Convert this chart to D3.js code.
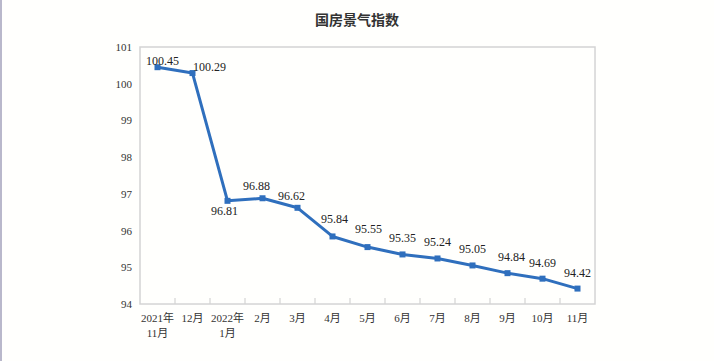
<!DOCTYPE html>
<html>
<head>
<meta charset="utf-8">
<script src="https://cdn.jsdelivr.net/npm/d3@7"></script>
<style>
  body { margin: 0; background: #fffffd; }
  svg { display: block; }
</style>
</head>
<body>
<svg id="chartSVG"></svg>
<script>
var chartWidth = 714
var chartHeight = 361
var margin = { top: 47, left: 140, right: 119, bottom: 57 }

var titleText = '国房景气指数'
var months = ['2021年\n11月', '12月', '2022年\n1月', '2月', '3月', '4月', '5月', '6月', '7月', '8月', '9月', '10月', '11月']
var indexValues = [100.45, 100.29, 96.81, 96.88, 96.62, 95.84, 95.55, 95.35, 95.24, 95.05, 94.84, 94.69, 94.42]
var yTickValues = [94, 95, 96, 97, 98, 99, 100, 101]

var lineColor = '#2f6fbd'
var serifFont = '"Liberation Serif", "Times New Roman", "Noto Sans CJK SC", serif'

// label nudges (dx, dy) relative to the point, default is centred above
var labelNudge = {
    0: [5, -2],
    1: [17, -2],
    2: [-3, 14],
    3: [-6, -8],
    4: [-6, -8],
    5: [2, -13],
    6: [1, -14],
    10: [4, -12]
}

var innerWidth = chartWidth - margin.left - margin.right
var innerHeight = chartHeight - margin.top - margin.bottom

var svg = d3.select('#chartSVG')
    .attr('width', chartWidth)
    .attr('height', chartHeight)

svg.append('rect')
    .attr('x', 0).attr('y', 0)
    .attr('width', 2).attr('height', chartHeight)
    .attr('fill', '#b9b8cb')

svg.append('text')
    .attr('x', 357)
    .attr('y', 25)
    .attr('text-anchor', 'middle')
    .style('font-family', '"Noto Sans CJK SC", sans-serif')
    .style('font-size', '14px')
    .style('font-weight', 'bold')
    .attr('fill', '#333')
    .text(titleText)

var g = svg.append('g')
    .attr('transform', 'translate(' + margin.left + ', ' + margin.top + ')')

var xScale = d3.scaleBand().domain(months).range([0, innerWidth]).padding(0)
var yScale = d3.scaleLinear().domain([94, 101]).range([innerHeight, 0])

// plot frame
g.append('rect')
    .attr('x', 0).attr('y', 0)
    .attr('width', innerWidth).attr('height', innerHeight)
    .attr('fill', 'none')
    .attr('stroke', '#d4d4d4')
    .attr('stroke-width', 1.5)

// inward ticks between months
g.selectAll('.xTick')
    .data(months.slice(1))
    .enter()
    .append('line')
    .attr('class', 'xTick')
    .attr('x1', function (d) { return xScale(d) })
    .attr('x2', function (d) { return xScale(d) })
    .attr('y1', innerHeight)
    .attr('y2', innerHeight - 6)
    .attr('stroke', '#d4d4d4')
    .attr('stroke-width', 1.2)

var yAxis = d3.axisLeft(yScale).tickValues(yTickValues).tickFormat(d3.format('d')).tickSize(0).tickPadding(8)
var yAxisG = g.append('g').call(yAxis)
yAxisG.select('.domain').remove()
yAxisG.selectAll('text')
    .style('font-family', serifFont)
    .style('font-size', '11px')
    .attr('fill', '#333')

// x labels, possibly two lines
var xLabels = g.selectAll('.xLabel')
    .data(months)
    .enter()
    .append('text')
    .attr('class', 'xLabel')
    .attr('text-anchor', 'middle')
    .style('font-family', serifFont)
    .style('font-size', '11px')
    .attr('fill', '#333')
xLabels.each(function (d) {
    var el = d3.select(this)
    var cx = xScale(d) + xScale.bandwidth() / 2
    d.split('\n').forEach(function (part, k) {
        el.append('tspan')
            .attr('x', cx)
            .attr('y', innerHeight + 18 + k * 15)
            .text(part)
    })
})

var points = months.map(function (m, i) {
    return { x: xScale(m) + xScale.bandwidth() / 2, y: yScale(indexValues[i]), v: indexValues[i], i: i }
})

var line = d3.line().x(function (d) { return d.x }).y(function (d) { return d.y })
g.append('path')
    .datum(points)
    .attr('d', line)
    .attr('fill', 'none')
    .attr('stroke', lineColor)
    .attr('stroke-width', 3)
    .attr('stroke-linejoin', 'round')

g.selectAll('.marker')
    .data(points)
    .enter()
    .append('rect')
    .attr('class', 'marker')
    .attr('x', function (d) { return d.x - 3 })
    .attr('y', function (d) { return d.y - 3 })
    .attr('width', 6)
    .attr('height', 6)
    .attr('fill', lineColor)

g.selectAll('.valueLabel')
    .data(points)
    .enter()
    .append('text')
    .attr('class', 'valueLabel')
    .attr('text-anchor', 'middle')
    .attr('x', function (d) { return d.x + (labelNudge[d.i] ? labelNudge[d.i][0] : 0) })
    .attr('y', function (d) { return d.y + (labelNudge[d.i] ? labelNudge[d.i][1] : -12) })
    .style('font-family', serifFont)
    .style('font-size', '12px')
    .attr('fill', '#222')
    .text(function (d) { return d.v.toFixed(2) })
</script>
</body>
</html>
